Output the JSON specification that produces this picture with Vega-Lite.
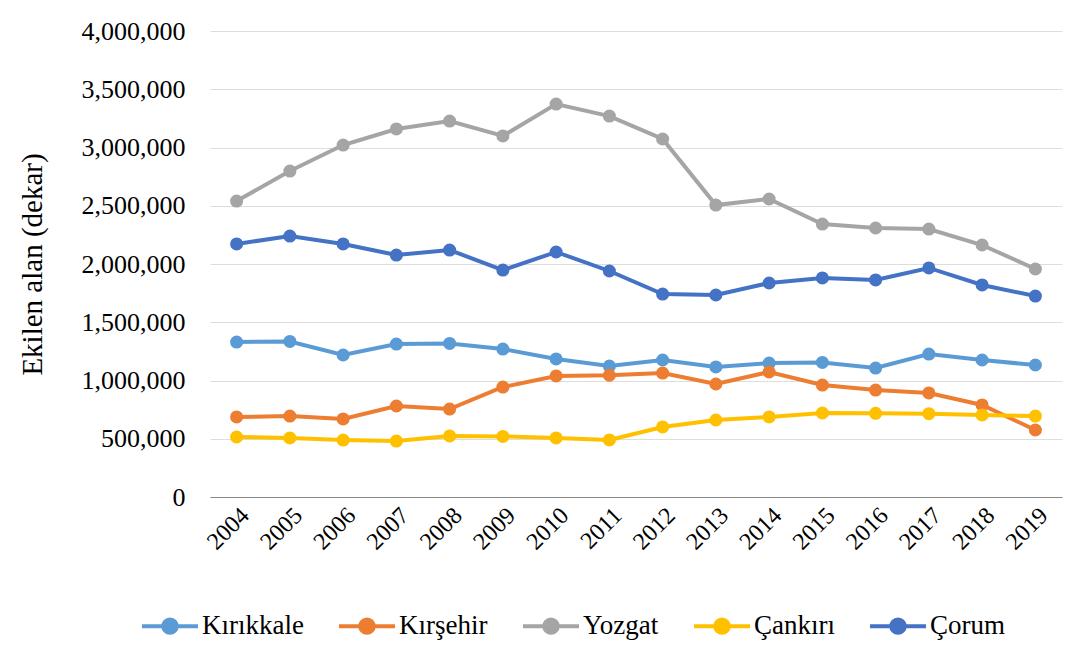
{
  "$schema": "https://vega.github.io/schema/vega-lite/v6.json",
  "width": 852,
  "height": 466,
  "autosize": {"type": "none"},
  "padding": {"left": 210, "top": 31, "right": 27, "bottom": 155},
  "view": {"stroke": null},
  "data": {"values": [
    {"year": "2004", "il": "Kırıkkale", "alan": 1330000}, {"year": "2005", "il": "Kırıkkale", "alan": 1335000}, {"year": "2006", "il": "Kırıkkale", "alan": 1219000}, {"year": "2007", "il": "Kırıkkale", "alan": 1313000}, {"year": "2008", "il": "Kırıkkale", "alan": 1318000}, {"year": "2009", "il": "Kırıkkale", "alan": 1270000}, {"year": "2010", "il": "Kırıkkale", "alan": 1185000}, {"year": "2011", "il": "Kırıkkale", "alan": 1124000}, {"year": "2012", "il": "Kırıkkale", "alan": 1176000}, {"year": "2013", "il": "Kırıkkale", "alan": 1116000}, {"year": "2014", "il": "Kırıkkale", "alan": 1150000}, {"year": "2015", "il": "Kırıkkale", "alan": 1155000}, {"year": "2016", "il": "Kırıkkale", "alan": 1107000}, {"year": "2017", "il": "Kırıkkale", "alan": 1227000}, {"year": "2018", "il": "Kırıkkale", "alan": 1176000}, {"year": "2019", "il": "Kırıkkale", "alan": 1133000},
    {"year": "2004", "il": "Kırşehir", "alan": 687000}, {"year": "2005", "il": "Kırşehir", "alan": 695000}, {"year": "2006", "il": "Kırşehir", "alan": 670000}, {"year": "2007", "il": "Kırşehir", "alan": 781000}, {"year": "2008", "il": "Kırşehir", "alan": 755000}, {"year": "2009", "il": "Kırşehir", "alan": 944000}, {"year": "2010", "il": "Kırşehir", "alan": 1039000}, {"year": "2011", "il": "Kırşehir", "alan": 1045000}, {"year": "2012", "il": "Kırşehir", "alan": 1064000}, {"year": "2013", "il": "Kırşehir", "alan": 970000}, {"year": "2014", "il": "Kırşehir", "alan": 1073000}, {"year": "2015", "il": "Kırşehir", "alan": 961000}, {"year": "2016", "il": "Kırşehir", "alan": 918000}, {"year": "2017", "il": "Kırşehir", "alan": 893000}, {"year": "2018", "il": "Kırşehir", "alan": 790000}, {"year": "2019", "il": "Kırşehir", "alan": 575000},
    {"year": "2004", "il": "Yozgat", "alan": 2540000}, {"year": "2005", "il": "Yozgat", "alan": 2798000}, {"year": "2006", "il": "Yozgat", "alan": 3021000}, {"year": "2007", "il": "Yozgat", "alan": 3159000}, {"year": "2008", "il": "Yozgat", "alan": 3227000}, {"year": "2009", "il": "Yozgat", "alan": 3099000}, {"year": "2010", "il": "Yozgat", "alan": 3373000}, {"year": "2011", "il": "Yozgat", "alan": 3270000}, {"year": "2012", "il": "Yozgat", "alan": 3073000}, {"year": "2013", "il": "Yozgat", "alan": 2506000}, {"year": "2014", "il": "Yozgat", "alan": 2558000}, {"year": "2015", "il": "Yozgat", "alan": 2343000}, {"year": "2016", "il": "Yozgat", "alan": 2309000}, {"year": "2017", "il": "Yozgat", "alan": 2300000}, {"year": "2018", "il": "Yozgat", "alan": 2163000}, {"year": "2019", "il": "Yozgat", "alan": 1957000},
    {"year": "2004", "il": "Çankırı", "alan": 515000}, {"year": "2005", "il": "Çankırı", "alan": 507000}, {"year": "2006", "il": "Çankırı", "alan": 489000}, {"year": "2007", "il": "Çankırı", "alan": 480000}, {"year": "2008", "il": "Çankırı", "alan": 524000}, {"year": "2009", "il": "Çankırı", "alan": 520000}, {"year": "2010", "il": "Çankırı", "alan": 507000}, {"year": "2011", "il": "Çankırı", "alan": 490000}, {"year": "2012", "il": "Çankırı", "alan": 601000}, {"year": "2013", "il": "Çankırı", "alan": 661000}, {"year": "2014", "il": "Çankırı", "alan": 687000}, {"year": "2015", "il": "Çankırı", "alan": 721000}, {"year": "2016", "il": "Çankırı", "alan": 718000}, {"year": "2017", "il": "Çankırı", "alan": 715000}, {"year": "2018", "il": "Çankırı", "alan": 704000}, {"year": "2019", "il": "Çankırı", "alan": 695000},
    {"year": "2004", "il": "Çorum", "alan": 2172000}, {"year": "2005", "il": "Çorum", "alan": 2240000}, {"year": "2006", "il": "Çorum", "alan": 2172000}, {"year": "2007", "il": "Çorum", "alan": 2077000}, {"year": "2008", "il": "Çorum", "alan": 2120000}, {"year": "2009", "il": "Çorum", "alan": 1948000}, {"year": "2010", "il": "Çorum", "alan": 2103000}, {"year": "2011", "il": "Çorum", "alan": 1940000}, {"year": "2012", "il": "Çorum", "alan": 1742000}, {"year": "2013", "il": "Çorum", "alan": 1734000}, {"year": "2014", "il": "Çorum", "alan": 1837000}, {"year": "2015", "il": "Çorum", "alan": 1880000}, {"year": "2016", "il": "Çorum", "alan": 1863000}, {"year": "2017", "il": "Çorum", "alan": 1966000}, {"year": "2018", "il": "Çorum", "alan": 1820000}, {"year": "2019", "il": "Çorum", "alan": 1725000}
  ]},
  "mark": {"type": "line", "strokeWidth": 4, "point": {"filled": true, "size": 170}},
  "encoding": {
    "x": {
      "field": "year", "type": "ordinal",
      "scale": {"type": "point", "padding": 0.5},
      "axis": {"title": null, "labelAngle": -45, "labelFontSize": 24, "labelFont": "Liberation Serif", "ticks": false, "labelPadding": 6}
    },
    "y": {
      "field": "alan", "type": "quantitative",
      "scale": {"domain": [0, 4000000]},
      "axis": {"tickCount": 8, "title": "Ekilen alan (dekar)", "titleFont": "Liberation Serif", "labelFont": "Liberation Serif", "titleFontSize": 29, "titleFontWeight": "normal", "labelFontSize": 26, "domain": false, "ticks": false, "labelPadding": 25, "titlePadding": 34}
    },
    "color": {
      "field": "il", "type": "nominal",
      "scale": {"domain": ["Kırıkkale", "Kırşehir", "Yozgat", "Çankırı", "Çorum"], "range": ["#5B9BD5", "#ED7D31", "#A5A5A5", "#FFC000", "#4472C4"]},
      "legend": {
        "title": null, "orient": "none", "direction": "horizontal", "legendX": -70, "legendY": 565,
        "labelFontSize": 27, "labelFont": "Liberation Serif", "labelOffset": 2, "columnPadding": 27,
        "symbolType": "M-1,0L1,0M-0.24,0A0.24,0.24 0 1,0 0.24,0A0.24,0.24 0 1,0 -0.24,0Z",
        "symbolSize": 3136, "symbolStrokeWidth": 4
      }
    }
  }
}
